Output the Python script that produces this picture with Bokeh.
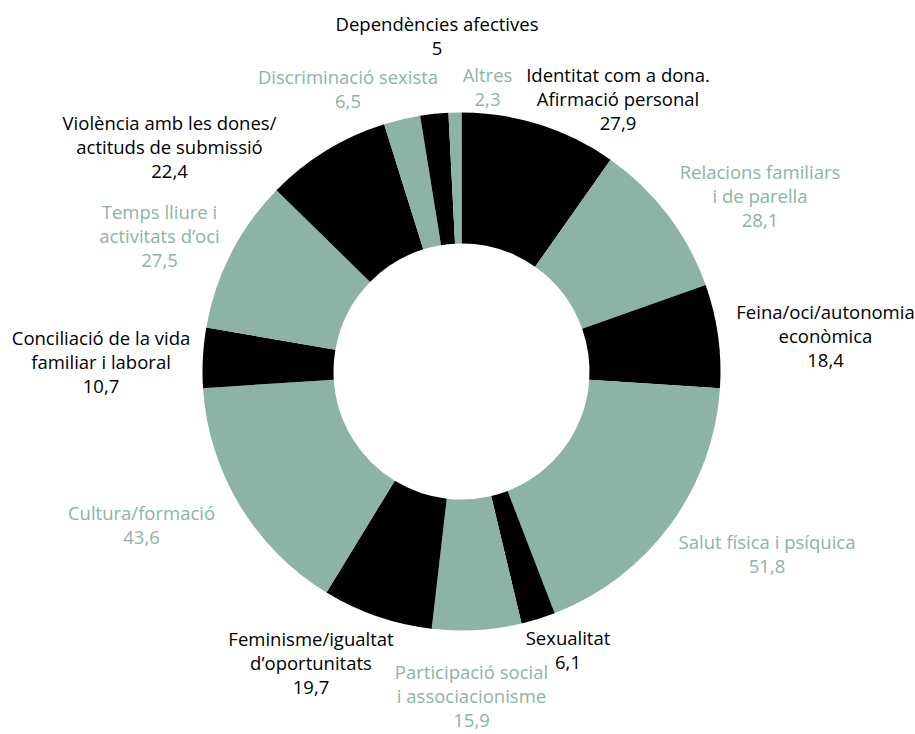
import math
from bokeh.plotting import figure
from bokeh.models import Range1d, ColumnDataSource
from bokeh.core.properties import value
from bokeh.embed import file_html
from bokeh.resources import INLINE

# ---- data ----
categories = [
    "Identitat com a dona.\nAfirmació personal",
    "Relacions familiars\ni de parella",
    "Feina/oci/autonomia\neconòmica",
    "Salut física i psíquica",
    "Sexualitat",
    "Participació social\ni associacionisme",
    "Feminisme/igualtat\nd\u2019oportunitats",
    "Cultura/formació",
    "Conciliació de la vida\nfamiliar i laboral",
    "Temps lliure i\nactivitats d\u2019oci",
    "Violència amb les dones/\nactituds de submissió",
    "Discriminació sexista",
    "Dependències afectives",
    "Altres",
]
values = [27.9, 28.1, 18.4, 51.8, 6.1, 15.9, 19.7, 43.6, 10.7, 27.5, 22.4, 6.5, 5.0, 2.3]

# ---- layout / style (screen pixel positions of label block centres) ----
label_x = [617.5, 759.5, 825, 766.5, 567.5, 471, 310.5, 141, 100.5, 159, 169, 347.5, 436.5, 487]
label_y = [98, 195, 335, 553, 649, 695, 662, 524, 361, 235, 146, 88, 35, 86]

BLACK = "#000000"
GREEN = "#8db3a6"
FONT = "Open Sans"
W, H = 915, 734
CX, CY = 461, 371          # screen centre
R_OUT, R_IN = 259, 128

def sy(py):
    return 734 - py

total = sum(values)
starts, ends, colors = [], [], []
cum = 0.0
for i, v in enumerate(values):
    a0 = math.pi / 2 - 2 * math.pi * cum / total
    cum += v
    a1 = math.pi / 2 - 2 * math.pi * cum / total
    starts.append(a0)
    ends.append(a1)
    colors.append(BLACK if i % 2 == 0 else GREEN)

def fmt(v):
    return str(int(v)) if float(v).is_integer() else f"{v:.1f}".replace(".", ",")

texts = [f"{c}\n{fmt(v)}" for c, v in zip(categories, values)]

src = ColumnDataSource(dict(
    start=starts, end=ends, color=colors,
    x=[CX] * len(values), y=[sy(CY)] * len(values),
))
lab = ColumnDataSource(dict(
    x=label_x, y=[sy(v) for v in label_y], text=texts, color=colors,
))

p = figure(width=W, height=H, output_backend="svg", toolbar_location=None,
           x_range=Range1d(0, W), y_range=Range1d(734 - H, 734),
           min_border=0)
p.axis.visible = False
p.grid.visible = False
p.outline_line_color = None
p.background_fill_color = "white"
p.border_fill_color = "white"

p.annular_wedge(x="x", y="y", inner_radius=R_IN, outer_radius=R_OUT,
                start_angle="start", end_angle="end", direction="clock",
                fill_color="color", line_color=None, source=src)

p.text(x="x", y="y", text="text", source=lab, text_color="color",
       text_font=value(FONT), text_font_size="18.5px",
       text_align="center", text_baseline="middle", text_line_height=0.96)

open("out.html", "w").write(file_html(p, INLINE))
